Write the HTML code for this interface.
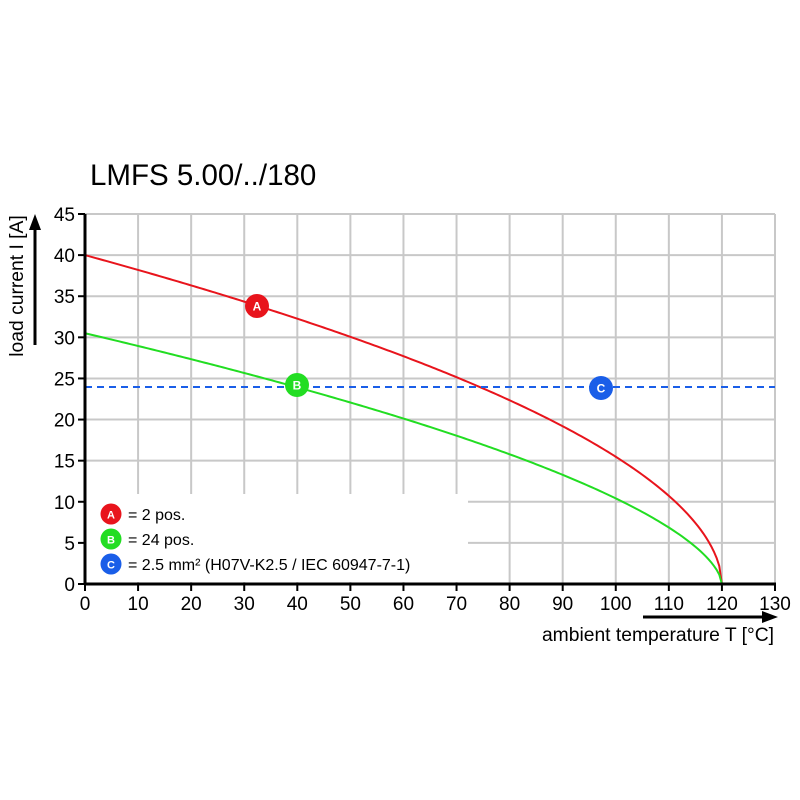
<!DOCTYPE html>
<html><head><meta charset="utf-8"><style>
html,body{margin:0;padding:0;background:#fff;}
svg{display:block;font-family:"Liberation Sans",Arial,sans-serif;}
</style></head><body>
<svg id="s" width="800" height="800" viewBox="0 0 800 800" xmlns="http://www.w3.org/2000/svg">
<rect width="800" height="800" fill="#fff"/>
<text x="90" y="185" font-size="29.5" fill="#000">LMFS 5.00/../180</text>
<g id="grid" stroke="#c8c8c8" stroke-width="2"></g>
<rect x="86" y="494" width="382" height="88" fill="#fff"/>
<path id="red" fill="none" stroke="#e8141c" stroke-width="2"/>
<path id="green" fill="none" stroke="#22dd22" stroke-width="2"/>
<line x1="85" y1="387" x2="775" y2="387" stroke="#1a5ee8" stroke-width="2" stroke-dasharray="7,5"/>
<g id="axes" stroke="#000" stroke-width="3">
<line x1="85" y1="214" x2="85" y2="585"/>
<line x1="84" y1="584" x2="776" y2="584"/>
</g>
<g id="ticks" stroke="#000" stroke-width="2"></g>
<g id="labels" font-size="19" fill="#000"></g>
<g font-weight="bold" font-size="12" fill="#fff" text-anchor="middle">
<circle cx="257" cy="306" r="12" fill="#e8141c"/><text x="257" y="310.5">A</text>
<circle cx="297" cy="385" r="12" fill="#22dd22"/><text x="297" y="389.5">B</text>
<circle cx="601" cy="388" r="12" fill="#1a5ee8"/><text x="601" y="392.5">C</text>
<circle cx="111" cy="514" r="10.5" fill="#e8141c"/><text x="111" y="518.5" font-size="11">A</text>
<circle cx="111" cy="539" r="10.5" fill="#22dd22"/><text x="111" y="543.5" font-size="11">B</text>
<circle cx="111" cy="564" r="10.5" fill="#1a5ee8"/><text x="111" y="568.5" font-size="11">C</text>
</g>
<g font-size="16" fill="#000">
<text x="128" y="520">= 2 pos.</text>
<text x="128" y="545">= 24 pos.</text>
<text x="128" y="570">= 2.5 mm² (H07V-K2.5 / IEC 60947-7-1)</text>
</g>
<line x1="643" y1="617" x2="765" y2="617" stroke="#000" stroke-width="3"/>
<polygon points="778,617 762,611 762,623" fill="#000"/>
<text x="774" y="641" font-size="19.3" text-anchor="end">ambient temperature T [°C]</text>
<line x1="35" y1="345" x2="35" y2="228" stroke="#000" stroke-width="3"/>
<polygon points="35,214 29,230 41,230" fill="#000"/>
<text transform="translate(23,286) rotate(-90)" font-size="19.3" text-anchor="middle">load current I [A]</text>
</svg>
<script>
var NS="http://www.w3.org/2000/svg";
function X(t){return 85+t*690/130;}function Y(v){return 584-v*370/45;}
function el(p,n,a){var e=document.createElementNS(NS,n);for(var k in a)e.setAttribute(k,a[k]);p.appendChild(e);return e;}
var g=document.getElementById('grid'),tk=document.getElementById('ticks'),lb=document.getElementById('labels');
for(var i=1;i<=13;i++){el(g,'line',{x1:X(i*10),y1:214,x2:X(i*10),y2:584});}
for(var j=1;j<=9;j++){el(g,'line',{x1:85,y1:Y(j*5),x2:775,y2:Y(j*5)});}
for(var i=0;i<=13;i++){el(tk,'line',{x1:X(i*10),y1:584,x2:X(i*10),y2:591});var t=el(lb,'text',{x:X(i*10),y:610,'text-anchor':'middle'});t.textContent=i*10;}
for(var j=0;j<=9;j++){el(tk,'line',{x1:78,y1:Y(j*5),x2:85,y2:Y(j*5)});var t=el(lb,'text',{x:75,y:Y(j*5)+7,'text-anchor':'end'});t.textContent=j*5;}
function curve(a,p){var d="";for(var t=0;t<=120;t+=0.5){var v=a*Math.pow(Math.max(0,1-t/120),p);d+=(t?"L":"M")+X(t).toFixed(2)+","+Y(v).toFixed(2);}return d;}
document.getElementById('red').setAttribute('d',curve(40,0.53));
document.getElementById('green').setAttribute('d',curve(30.5,0.6));
</script>
</body></html>
